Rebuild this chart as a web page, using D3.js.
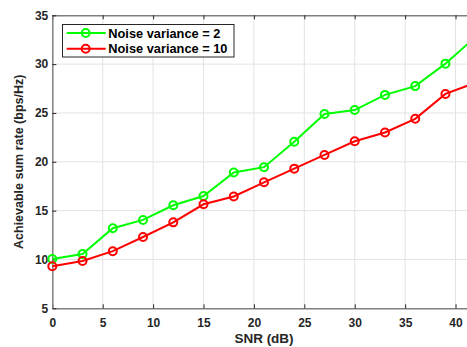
<!DOCTYPE html>
<html>
<head>
<meta charset="utf-8">
<script src="https://cdn.jsdelivr.net/npm/d3@7"></script>
<style>
  html, body { margin: 0; padding: 0; background: #fff; }
  svg { display: block; font-family: "Liberation Sans", Arial, sans-serif; }
</style>
</head>
<body>
<script>
var snr = [0, 3, 6, 9, 12, 15, 18, 21, 24, 27, 30, 33, 36, 39, 42];
var var2 = [10.05, 10.55, 13.2, 14.05, 15.55, 16.5, 18.9, 19.45, 22.05, 24.9, 25.3, 26.85, 27.75, 30.05, 32.8];
var var10 = [9.3, 9.85, 10.85, 12.3, 13.8, 15.65, 16.45, 17.9, 19.3, 20.7, 22.1, 23.0, 24.4, 26.95, 28.1];
var xTicks = [0, 5, 10, 15, 20, 25, 30, 35, 40];
var yTicks = [5, 10, 15, 20, 25, 30, 35];
var seriesNames = ['Noise variance = 2', 'Noise variance = 10'];
var seriesColors = ['#00ff00', '#ff0000'];

var width = 467;
var height = 347;
var margin = { left: 52.3, top: 15.3 };
var plotW = 423.4;
var plotH = 293;
var axisColor = '#262626';

var svg = d3.select('body').append('svg')
  .attr('width', width)
  .attr('height', height);

var x = d3.scaleLinear().domain([0, 42]).range([0, plotW]);
var y = d3.scaleLinear().domain([5, 35]).range([plotH, 0]);

var g = svg.append('g').attr('transform', 'translate(' + margin.left + ',' + margin.top + ')');

// grid
g.selectAll('.vgrid').data(xTicks.slice(1)).enter().append('line')
  .attr('x1', function(d) { return x(d); })
  .attr('x2', function(d) { return x(d); })
  .attr('y1', 0).attr('y2', plotH)
  .attr('stroke', '#e3e3e3').attr('stroke-width', 1);
g.selectAll('.hgrid').data(yTicks.slice(1, -1)).enter().append('line')
  .attr('y1', function(d) { return y(d); })
  .attr('y2', function(d) { return y(d); })
  .attr('x1', 0).attr('x2', plotW)
  .attr('stroke', '#e3e3e3').attr('stroke-width', 1);

// axes
var axBottom = g.append('g').attr('transform', 'translate(0,' + plotH + ')')
  .call(d3.axisBottom(x).tickValues(xTicks).tickSizeInner(-4).tickSizeOuter(0).tickPadding(10));
var axTop = g.append('g')
  .call(d3.axisTop(x).tickValues(xTicks).tickSizeInner(-4).tickSizeOuter(0).tickFormat(''));
var axLeft = g.append('g')
  .call(d3.axisLeft(y).tickValues(yTicks).tickSizeInner(-4).tickSizeOuter(0).tickPadding(4));

[axBottom, axTop, axLeft].forEach(function(a) {
  a.select('.domain').attr('stroke', '#7f7f7f').attr('stroke-width', 1.5);
  a.selectAll('.tick line').attr('stroke', axisColor);
  a.selectAll('.tick text')
    .attr('fill', axisColor)
    .style('font-size', '12px')
    .style('font-weight', 'bold');
});

// lines
svg.append('clipPath').attr('id', 'clip')
  .append('rect').attr('x', -6).attr('y', -6).attr('width', plotW + 12).attr('height', plotH + 12);

var line = d3.line()
  .x(function(d) { return x(d[0]); })
  .y(function(d) { return y(d[1]); });

var series = [var2, var10];
var plot = g.append('g').attr('clip-path', 'url(#clip)');
series.forEach(function(vals, i) {
  var pts = snr.map(function(s, j) { return [s, vals[j]]; });
  plot.append('path')
    .datum(pts)
    .attr('d', line)
    .attr('fill', 'none')
    .attr('stroke', seriesColors[i])
    .attr('stroke-width', 2);
  plot.selectAll('.m' + i).data(pts).enter().append('circle')
    .attr('cx', function(d) { return x(d[0]); })
    .attr('cy', function(d) { return y(d[1]); })
    .attr('r', 4)
    .attr('fill', 'none')
    .attr('stroke', seriesColors[i])
    .attr('stroke-width', 2);
});

// legend
var leg = svg.append('g');
leg.append('rect')
  .attr('x', 62.5).attr('y', 24.5)
  .attr('width', 171.5).attr('height', 32.5)
  .attr('fill', '#fff')
  .attr('stroke', axisColor)
  .attr('stroke-width', 1);
seriesNames.forEach(function(name, i) {
  var ly = 33 + i * 15.7;
  leg.append('line')
    .attr('x1', 66.7).attr('x2', 105.7)
    .attr('y1', ly).attr('y2', ly)
    .attr('stroke', seriesColors[i]).attr('stroke-width', 2);
  leg.append('circle')
    .attr('cx', 85.7).attr('cy', ly).attr('r', 4)
    .attr('fill', 'none')
    .attr('stroke', seriesColors[i]).attr('stroke-width', 2);
  leg.append('text')
    .attr('x', 108.3).attr('y', ly + 4.5)
    .attr('fill', '#000')
    .style('font-size', '12.8px')
    .style('font-weight', 'bold')
    .text(name);
});

// axis labels
svg.append('text')
  .attr('x', 264).attr('y', 343)
  .attr('text-anchor', 'middle')
  .attr('fill', axisColor)
  .style('font-size', '13.5px')
  .style('font-weight', 'bold')
  .text('SNR (dB)');

svg.append('text')
  .attr('transform', 'translate(22.5,' + (margin.top + plotH / 2) + ') rotate(-90)')
  .attr('text-anchor', 'middle')
  .attr('fill', axisColor)
  .style('font-size', '12.5px')
  .style('font-weight', 'bold')
  .text('Achievable sum rate (bps/Hz)');
</script>
</body>
</html>
